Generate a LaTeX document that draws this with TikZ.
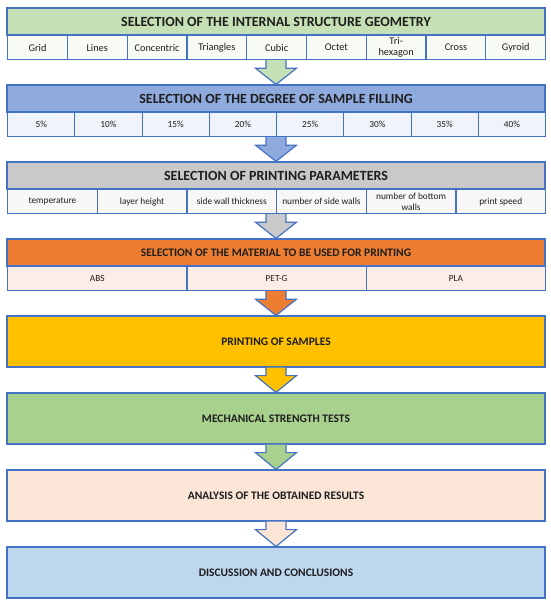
\documentclass[tikz,border=0pt]{standalone}
\usepackage{fontspec}
\setmainfont{Carlito}
\usetikzlibrary{calc}
\definecolor{bd}{HTML}{4472C4}
\definecolor{cA}{HTML}{C5E0B4}
\definecolor{cB}{HTML}{8FAADC}
\definecolor{cC}{HTML}{C9C9C9}
\definecolor{cD}{HTML}{ED7D31}
\definecolor{cE}{HTML}{FFC000}
\definecolor{cF}{HTML}{A9D18E}
\definecolor{cG}{HTML}{FBE5D6}
\definecolor{cH}{HTML}{BDD7EE}
\definecolor{rA}{HTML}{F7FAF5}
\definecolor{rB}{HTML}{EFF3FA}
\definecolor{rC}{HTML}{F7F7F7}
\definecolor{rD}{HTML}{FCEEE6}
\definecolor{tx}{HTML}{1E1E1E}
\newcommand\blockarrow[3]{%
  \coordinate (#1s) at (#2);
  \draw[barrow, fill=#3] ($(#1s)+(-10,0)$) -- ($(#1s)+(-10,8)$) -- ($(#1s)+(-20.5,8)$) -- (#1t)
    -- ($(#1s)+(20.5,8)$) -- ($(#1s)+(10,8)$) -- ($(#1s)+(10,0)$);}
\begin{document}
\begin{tikzpicture}[x=1pt,y=-1pt,
  boxbase/.style={draw=bd, line width=1.2pt, inner sep=0pt, text=tx, align=center},
  hdr/.style={boxbase, minimum width=538pt, minimum height=27pt, font=\fontsize{14}{16}\selectfont\bfseries},
  hdrsmall/.style={boxbase, minimum width=538pt, minimum height=27pt, font=\fontsize{11.5}{13}\selectfont\bfseries},
  bigbox/.style={boxbase, minimum width=538pt, minimum height=51pt, font=\fontsize{11.5}{13}\selectfont\bfseries},
  cell/.style={boxbase, minimum height=24pt, anchor=north west},
  barrow/.style={draw=bd, line width=1.2pt, line join=miter}
]
\useasboundingbox (0,0) rectangle (550,603);
% Box 1
\node[hdr, fill=cA] (h1) at (276,21.5) {SELECTION OF THE INTERNAL STRUCTURE GEOMETRY};
\foreach \t [count=\i from 0] in {Grid,Lines,Concentric,Triangles,Cubic,Octet,{Tri-\\hexagon},Cross,Gyroid}
  \node[cell, fill=rA, minimum width=59.78pt, font=\fontsize{10.3}{11}\selectfont] (ra\i) at ({7+\i*59.78},35) {\t};
% Box 2
\node[hdr, fill=cB] (h2) at (276,98.5) {SELECTION OF THE DEGREE OF SAMPLE FILLING};
\foreach \t [count=\i from 0] in {5\%,10\%,15\%,20\%,25\%,30\%,35\%,40\%}
  \node[cell, fill=rB, minimum width=67.25pt, font=\fontsize{9.3}{11}\selectfont] (rb\i) at ({7+\i*67.25},112) {\t};
% Box 3
\node[hdr, fill=cC] (h3) at (276,175.5) {SELECTION OF PRINTING PARAMETERS};
\foreach \t [count=\i from 0] in {temperature,layer height,side wall thickness,number of side walls,{number of bottom\\walls},print speed}
  \node[cell, fill=rC, minimum width=89.67pt, font=\fontsize{9.3}{10.5}\selectfont] (rc\i) at ({7+\i*89.67},189) {\t};
% Box 4
\node[hdrsmall, fill=cD] (h4) at (276,252.5) {SELECTION OF THE MATERIAL TO BE USED FOR PRINTING};
\foreach \t [count=\i from 0] in {ABS,PET-G,PLA}
  \node[cell, fill=rD, minimum width=179.33pt, font=\fontsize{9.3}{11}\selectfont] (rd\i) at ({7+\i*179.33},266) {\t};
% Boxes 5-8
\node[bigbox, fill=cE] (b5) at (276,341.5) {PRINTING OF SAMPLES};
\node[bigbox, fill=cF] (b6) at (276,418.5) {MECHANICAL STRENGTH TESTS};
\node[bigbox, fill=cG] (b7) at (276,495.5) {ANALYSIS OF THE OBTAINED RESULTS};
\node[bigbox, fill=cH] (b8) at (276,572.5) {DISCUSSION AND CONCLUSIONS};
% Arrows
\coordinate (a1t) at (h2.north);
\blockarrow{a1}{h1.south |- ra0.south}{cA}
\coordinate (a2t) at (h3.north);
\blockarrow{a2}{h2.south |- rb0.south}{cB}
\coordinate (a3t) at (h4.north);
\blockarrow{a3}{h3.south |- rc0.south}{cC}
\coordinate (a4t) at (b5.north);
\blockarrow{a4}{h4.south |- rd0.south}{cD}
\coordinate (a5t) at (b6.north);
\blockarrow{a5}{b5.south}{cE}
\coordinate (a6t) at (b7.north);
\blockarrow{a6}{b6.south}{cF}
\coordinate (a7t) at (b8.north);
\blockarrow{a7}{b7.south}{cG}
\end{tikzpicture}
\end{document}
